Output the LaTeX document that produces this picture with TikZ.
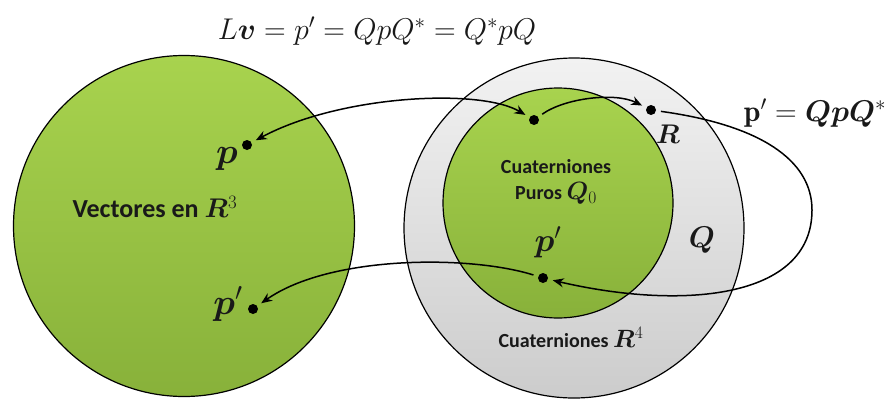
\RequirePackage{fix-cm}
\documentclass[tikz,border=0pt]{standalone}
\usepackage{amsmath,bm}
\usepackage{fontspec}
\usetikzlibrary{arrows.meta}
\newfontfamily\lblfont{Carlito}
\definecolor{grtop}{RGB}{168,211,78}
\definecolor{grbot}{RGB}{136,177,58}
\definecolor{gytop}{RGB}{242,242,242}
\definecolor{gybot}{RGB}{204,204,204}
\definecolor{txt}{RGB}{25,25,25}
\tikzset{
  greenball/.style={circle, draw=black, line width=1.2pt, top color=grtop, bottom color=grbot, inner sep=0pt},
  grayball/.style={circle, draw=black, line width=1.2pt, top color=gytop, bottom color=gybot, inner sep=0pt},
  dot/.style={circle, fill=black, inner sep=0pt, minimum size=10pt, outer sep=5pt},
  conn/.style={line width=1.5pt, -{Stealth[length=11pt,width=9pt]}},
  lbl/.style={font=\lblfont\bfseries\fontsize{20}{26}\selectfont, text=txt, align=center},
  mlbl/.style={font=\fontsize{27}{30}\selectfont, text=txt, inner sep=0pt},
}
\begin{document}
\begin{tikzpicture}[x=1pt,y=-1pt]
\useasboundingbox (0,0) rectangle (888,402);
% circles
\node[greenball, minimum size=341pt] (V) at (184,226) {};
\node[grayball, minimum size=340pt] (H) at (574,228) {};
\node[greenball, minimum size=230pt] (P) at (558,203) {};
% dots
\node[dot] (pL) at (247,145) {};
\node[dot] (ppL) at (253,309) {};
\node[dot] (q0) at (534,120) {};
\node[dot] (R) at (651,110) {};
\node[dot] (pq) at (543,278) {};
% labels
\node[mlbl, font=\fontsize{30}{34}\selectfont] (eqtop) at (377,31) {$L\bm{v} = p' = QpQ^{*} = Q^{*}pQ$};
\node[mlbl, font=\fontsize{30}{34}\selectfont] (eqr) at (815,113) {$\mathbf{p}' = \bm{QpQ}^{*}$};
\node[mlbl, font=\fontsize{36}{40}\selectfont] (lp) at (227,159) {$\bm{p}$};
\node[mlbl, font=\fontsize{36}{40}\selectfont] (lpp) at (228,304) {$\bm{p}'$};
\node[mlbl] (lR) at (668,134) {$\bm{R}$};
\node[mlbl, font=\fontsize{30}{34}\selectfont] (lQ) at (702,240) {$\bm{Q}$};
\node[mlbl, font=\fontsize{33}{36}\selectfont] (lpq) at (548,242) {$\bm{p}'$};
\node[lbl, font=\lblfont\bfseries\fontsize{26}{30}\selectfont] (lV) at (155,207) {Vectores en \fontsize{27}{30}\selectfont$\bm{R}^{3}$};
\node[lbl] (lP) at (556,182) {Cuaterniones\\Puros \fontsize{25}{28}\selectfont$\bm{Q}_{0}$};
\node[lbl] (lH) at (571,337) {Cuaterniones \fontsize{25}{28}\selectfont$\bm{R}^{4}$};
% connectors
\draw[conn, {Stealth[length=11pt,width=9pt]}-{Stealth[length=11pt,width=9pt]}] (pL) .. controls (340,95) and (480,88) .. (q0);
\draw[conn] (q0) .. controls (565,98) and (615,92) .. (R);
\draw[conn] (R) .. controls (760,125) and (812,160) .. (812,210) .. controls (812,300) and (680,310) .. (pq);
\draw[conn] (pq) .. controls (470,255) and (330,255) .. (ppL);
\end{tikzpicture}
\end{document}
